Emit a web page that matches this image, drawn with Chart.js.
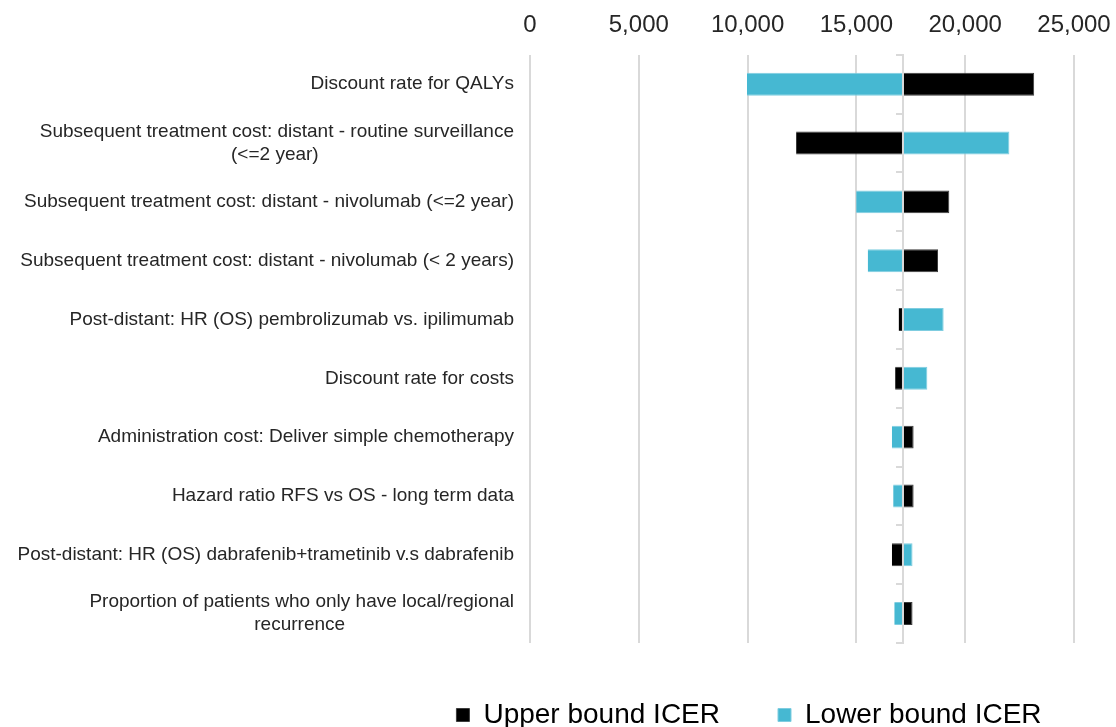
<!DOCTYPE html>
<html>
<head>
<meta charset="utf-8">
<script src="https://cdn.jsdelivr.net/npm/chart.js@4"></script>
<style>
  html, body { margin: 0; padding: 0; background: #ffffff; }
  #c { display: block; }
</style>
</head>
<body>
<canvas id="c" width="1116" height="727"></canvas>
<script>
// ---- data ----
const categories = [
  'Discount rate for QALYs',
  ['Subsequent treatment cost: distant - routine surveillance', '(<=2 year)'],
  'Subsequent treatment cost: distant - nivolumab (<=2 year)',
  'Subsequent treatment cost: distant - nivolumab (< 2 years)',
  'Post-distant: HR (OS) pembrolizumab vs. ipilimumab',
  'Discount rate for costs',
  'Administration cost: Deliver simple chemotherapy',
  'Hazard ratio RFS vs OS - long term data',
  'Post-distant: HR (OS) dabrafenib+trametinib v.s dabrafenib',
  ['Proportion of patients who only have local/regional', 'recurrence']
];
const upperBoundIcer = [23170, 12230, 19270, 18750, 16940, 16780, 17630, 17630, 16630, 17580];
const lowerBoundIcer = [9970, 22030, 14990, 15520, 19010, 18260, 16630, 16690, 17580, 16740];
const baseIcer = 17140;
const xTickValues = [0, 5000, 10000, 15000, 20000, 25000];
const seriesNames = ['Upper bound ICER', 'Lower bound ICER'];

// ---- styling ----
const FAMILY = '"Liberation Sans", Arial, Helvetica, sans-serif';
const LABEL_SIZE = 19;

// centre the second line of two-line category labels under the first
const mctx = document.createElement('canvas').getContext('2d');
mctx.font = LABEL_SIZE + 'px ' + FAMILY;
function centreLines(label) {
  if (!Array.isArray(label)) return label;
  const w0 = mctx.measureText(label[0]).width;
  const sp = mctx.measureText(' ').width;
  return label.map((line, i) => {
    if (i === 0) return line;
    const n = Math.max(0, Math.round((w0 - mctx.measureText(line).width) / 2 / sp));
    return line + ' '.repeat(n);
  });
}
const displayLabels = categories.map(centreLines);

const legendShift = {
  id: 'legendShift',
  afterLayout(chart) {
    const lg = chart.legend;
    if (!lg) return;
    const dx = 191, dy = 0;
    lg.left += dx; lg.right += dx;
    lg.top += dy; lg.bottom += dy;
  }
};

new Chart(document.getElementById('c').getContext('2d'), {
  type: 'bar',
  data: {
    labels: displayLabels,
    datasets: [
      {
        label: seriesNames[0],
        data: upperBoundIcer.map(v => [baseIcer, v]),
        backgroundColor: '#000000',
        borderColor: '#3c3c3c',
        borderWidth: 1,
        grouped: false
      },
      {
        label: seriesNames[1],
        data: lowerBoundIcer.map(v => [baseIcer, v]),
        backgroundColor: '#46b8d2',
        borderColor: '#7fcde0',
        borderWidth: 1,
        grouped: false
      }
    ]
  },
  options: {
    indexAxis: 'y',
    responsive: false,
    animation: false,
    devicePixelRatio: 1,
    layout: { padding: { top: -4, right: 0, bottom: 0, left: 0 } },
    datasets: { bar: { categoryPercentage: 1, barPercentage: 0.39 } },
    scales: {
      x: {
        type: 'linear',
        position: 'top',
        min: xTickValues[0],
        max: xTickValues[xTickValues.length - 1],
        afterBuildTicks(scale) { scale.ticks = xTickValues.map(v => ({ value: v })); },
        afterFit(scale) { scale.paddingRight = 42; },
        ticks: { font: { size: 24, family: FAMILY }, color: '#262626', padding: 15 },
        grid: { color: '#d9d9d9', lineWidth: 2, drawTicks: false },
        border: { display: false }
      },
      y: {
        type: 'category',
        position: 'left',
        offset: true,
        grid: { display: false, drawTicks: false },
        border: { display: false },
        ticks: { font: { size: LABEL_SIZE, family: FAMILY }, color: '#262626', padding: 16, autoSkip: false },
        afterFit(scale) { scale.width = 530; }
      },
      yBase: {
        type: 'category',
        axis: 'y',
        position: { x: baseIcer },
        offset: true,
        grid: { offset: true, drawOnChartArea: false, drawTicks: true, tickLength: 6, color: '#d9d9d9', lineWidth: 2 },
        border: { display: true, color: '#d9d9d9', width: 2, z: 1 },
        ticks: { display: false }
      }
    },
    plugins: {
      legend: {
        position: 'bottom',
        maxHeight: 84,
        labels: {
          font: { size: 28, family: FAMILY },
          color: '#000000',
          boxWidth: 13,
          boxHeight: 13,
          padding: 58
        }
      },
      tooltip: { enabled: false }
    }
  },
  plugins: [legendShift]
});
</script>
</body>
</html>
